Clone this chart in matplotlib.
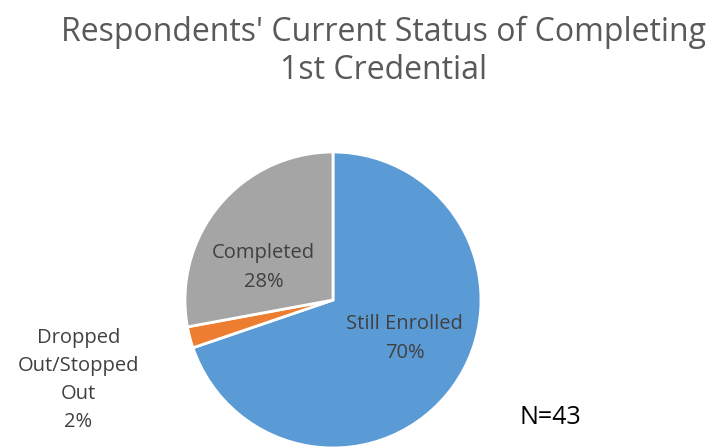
import matplotlib.pyplot as plt

# data
statuses = ["Still Enrolled", "Dropped\nOut/Stopped\nOut", "Completed"]
counts = [30, 1, 12]
colors = ["#5B9BD5", "#ED7D31", "#A5A5A5"]
total = sum(counts)

plt.rcParams['font.family'] = ['Open Sans', 'DejaVu Sans']

fig = plt.figure(figsize=(7.21, 4.48), dpi=100)
fig.text(0.532, 0.965, "Respondents' Current Status of Completing\n1st Credential",
         ha='center', va='top', fontsize=23, color='#595959', linespacing=1.2)

ax = fig.add_axes([0.2566, 0.0, 0.4105, 0.6607])
wedges, _ = ax.pie(counts, colors=colors, startangle=90, counterclock=False,
                   wedgeprops=dict(edgecolor='white', linewidth=2))
ax.set_aspect('equal')
ax.set_xlim(-1, 1)
ax.set_ylim(-1, 1)

# label positions (axes data coords, pie radius = 1)
label_pos = [(0.485, -0.26), (-1.72, -0.54), (-0.47, 0.22)]
for name, c, (x, y) in zip(statuses, counts, label_pos):
    pct = round(100 * c / total)
    ax.text(x, y, f"{name}\n{pct}%", ha='center', va='center',
            fontsize=14.5, color='#404040', linespacing=1.55, clip_on=False)

fig.text(0.764, 0.067, "N=43", ha='center', va='center', fontsize=18, color='black')

fig.savefig("out.png", dpi=100)
